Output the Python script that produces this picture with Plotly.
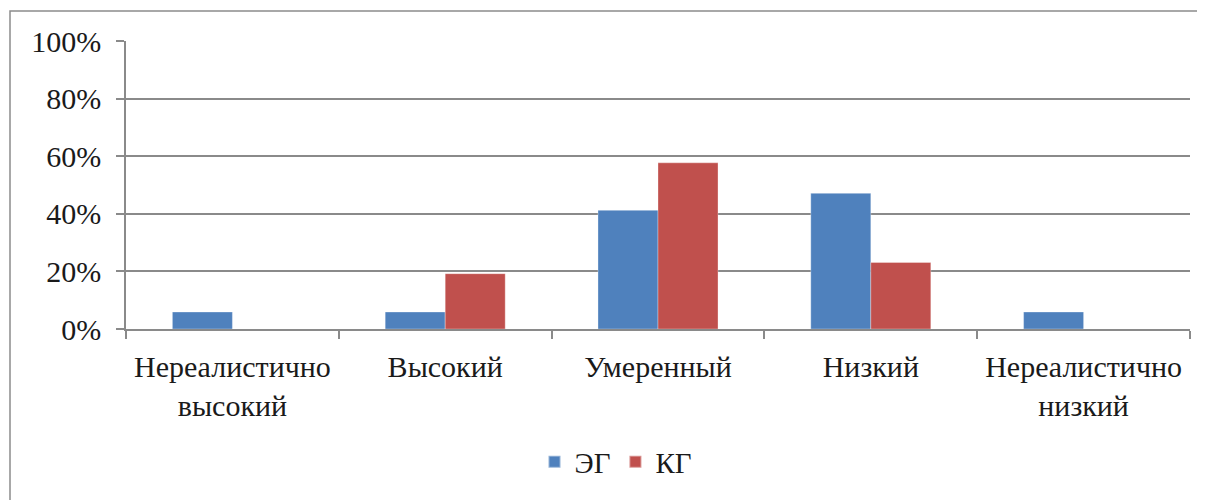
import plotly.graph_objects as go

categories = ["Нереалистично<br>высокий", "Высокий", "Умеренный", "Низкий", "Нереалистично<br>низкий"]
eg_values = [5.9, 5.9, 41.2, 47.1, 5.9]
kg_values = [0, 19.2, 57.7, 23.1, 0]
y_tickvals = [0, 20, 40, 60, 80, 100]
y_ticktext = ["0%", "20%", "40%", "60%", "80%", "100%"]

OFF = 8  # page body margin
W, H = 1205 - OFF, 500 - OFF
L, R, T, B = 126 - OFF, 15, 41 - OFF, 171
pw, ph = W - L - R, H - T - B

FONT = dict(family="Liberation Serif, Times New Roman, serif", size=30, color="#1a1a1a")
AX = "#8a8a8a"

fig = go.Figure()
fig.add_trace(go.Bar(x=categories, y=eg_values, name="ЭГ",
                     marker=dict(color="#4F81BD", line=dict(color="rgba(255,255,255,0.4)", width=0.8))))
fig.add_trace(go.Bar(x=categories, y=kg_values, name="КГ",
                     marker=dict(color="#C0504D", line=dict(color="rgba(255,255,255,0.4)", width=0.8))))

# outer chart border (page coords: left 10, top 11)
x0 = (10 - OFF - L) / pw
x1 = (W + 10 - L) / pw
y1 = (T + ph - (11 - OFF)) / ph
y0 = (T + ph - (H + 10)) / ph
fig.add_shape(type="rect", xref="paper", yref="paper", x0=x0, x1=x1, y0=y0, y1=y1,
              line=dict(color="#8c8c8c", width=1.5), layer="below")

fig.update_layout(
    width=W, height=H,
    margin=dict(l=L, r=R, t=T, b=B, pad=0),
    paper_bgcolor="white", plot_bgcolor="white",
    font=FONT,
    barmode="group", bargap=0.436, bargroupgap=0,
    showlegend=True,
    legend=dict(orientation="h", x=(616 - 126) / pw, xanchor="center",
                y=(329 - 462) / ph, yanchor="middle",
                font=dict(family=FONT["family"], size=29, color="#1a1a1a"),
                itemsizing="constant", traceorder="normal"),
    xaxis=dict(type="category", showgrid=False, showline=True, linecolor=AX, linewidth=1.5,
               ticks="outside", tickson="boundaries", ticklen=8, tickcolor=AX, tickwidth=1.5,
               ticklabelstandoff=10, tickfont=FONT, fixedrange=True),
    yaxis=dict(range=[0, 100], tickvals=y_tickvals, ticktext=y_ticktext,
               showgrid=True, gridcolor=AX, gridwidth=1.5,
               showline=True, linecolor=AX, linewidth=1.5, zeroline=False,
               ticks="outside", ticklen=8, tickcolor=AX, tickwidth=1.5,
               ticklabelstandoff=9, tickfont=FONT, fixedrange=True),
)

fig.write_html("out.html")
